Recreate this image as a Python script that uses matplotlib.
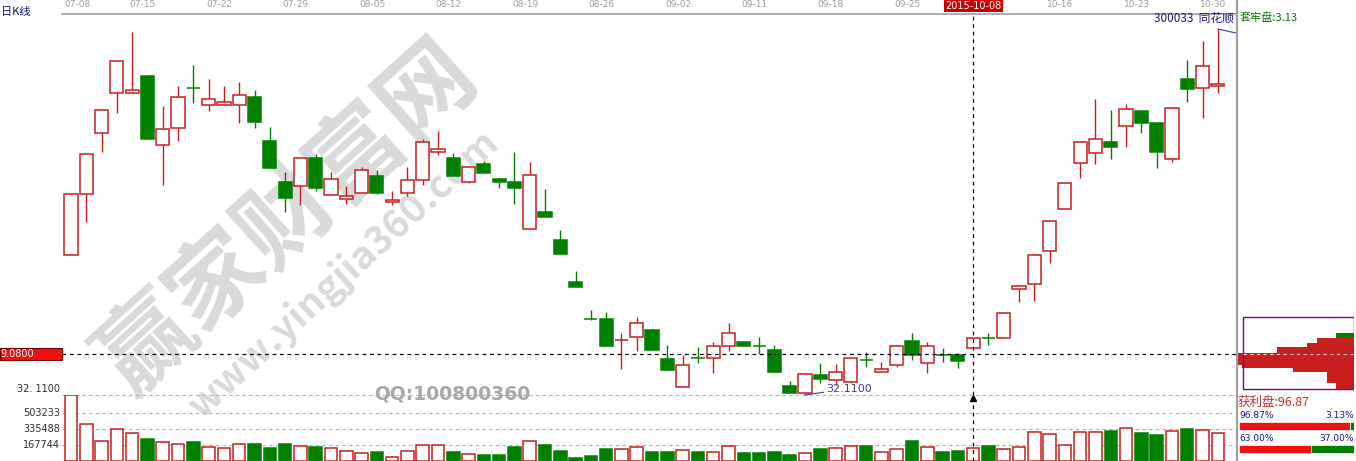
"""Daily K-line of 300033 (Jul-Oct 2015) with volume and chip panel."""
import matplotlib
matplotlib.use("Agg")
import matplotlib.pyplot as plt
from matplotlib.lines import Line2D
from matplotlib.patches import Rectangle
import numpy as np

plt.rcParams['font.family'] = ['Noto Sans CJK SC', 'DejaVu Sans']

# ---- data ----
date_idx = [0, 5, 10, 15, 20, 25, 30, 35, 40, 45, 50, 55, 65, 70, 75]
date_lbl = ['07-08', '07-15', '07-22', '07-29', '08-05', '08-12', '08-19', '08-26',
            '09-02', '09-11', '09-18', '09-25', '10-16', '10-23', '10-30']
cross_idx = 59
cross_date = '2015-10-08'
cross_price = 39.08
low_idx = 48
low_price = 32.11
high_idx = 75

opens = [55.91, 66.28, 76.65, 83.45, 83.45, 86.34, 74.61, 77.50, 84.30, 81.41,
         81.41, 81.41, 82.77, 75.29, 68.32, 67.64, 72.40, 66.11, 65.43, 66.45,
         69.34, 64.92, 66.45, 68.66, 73.42, 72.40, 68.32, 71.38, 68.83, 68.32,
         60.33, 63.22, 58.46, 51.32, 45.03, 45.03, 41.46, 41.97, 43.16, 38.23,
         33.47, 38.40, 38.40, 40.44, 41.12, 40.44, 39.76, 33.64, 32.45, 35.51,
         34.66, 34.32, 38.06, 36.02, 37.21, 41.29, 37.55, 38.91, 38.91, 40.10,
         41.80, 41.80, 50.13, 50.98, 56.59, 63.73, 71.55, 73.25, 75.12, 77.84,
         80.39, 78.35, 72.23, 85.83, 84.30, 84.64]
highs = [66.45, 73.08, 80.56, 88.89, 93.82, 86.34, 81.24, 84.64, 88.21, 85.83,
         84.64, 85.32, 83.96, 77.67, 70.02, 72.40, 73.08, 70.02, 67.64, 70.87,
         70.36, 66.79, 70.87, 75.63, 76.99, 73.25, 70.87, 71.89, 69.00, 73.42,
         71.72, 67.13, 60.16, 53.19, 46.56, 46.22, 42.65, 45.37, 43.16, 40.61,
         38.91, 40.27, 41.12, 44.35, 41.12, 41.97, 40.61, 34.49, 35.68, 37.55,
         37.38, 38.40, 39.42, 37.72, 40.44, 42.65, 41.12, 40.10, 39.25, 41.80,
         42.65, 46.05, 50.64, 55.91, 61.69, 68.15, 75.12, 82.43, 80.56, 81.58,
         80.39, 78.35, 80.90, 89.06, 92.29, 94.33]
lows = [55.91, 61.52, 73.42, 80.05, 83.45, 75.63, 67.81, 75.29, 81.75, 80.39,
        81.41, 78.35, 77.50, 70.70, 63.22, 64.41, 66.79, 66.11, 64.58, 66.45,
        66.28, 64.41, 65.94, 67.81, 72.91, 69.34, 68.15, 69.85, 67.30, 64.58,
        60.33, 62.37, 56.08, 50.47, 44.86, 40.44, 36.53, 39.59, 39.76, 36.36,
        33.47, 37.55, 35.85, 39.59, 40.44, 39.08, 36.02, 32.45, 32.11, 34.15,
        33.81, 34.15, 36.87, 36.02, 36.87, 38.06, 35.85, 37.72, 36.70, 40.10,
        40.61, 41.80, 47.92, 48.09, 54.55, 63.73, 69.00, 71.38, 72.23, 74.27,
        76.65, 70.70, 71.72, 81.92, 79.20, 83.45]
closes = [66.28, 73.08, 80.56, 88.89, 83.96, 75.63, 77.33, 82.77, 84.22, 82.43,
          81.92, 83.11, 78.52, 70.70, 65.60, 72.40, 67.30, 68.83, 65.94, 70.36,
          66.45, 65.26, 68.66, 75.12, 73.93, 69.34, 70.87, 69.85, 68.32, 67.30,
          69.51, 62.37, 56.08, 50.47, 44.95, 40.44, 41.50, 44.35, 39.76, 36.36,
          37.21, 38.35, 40.44, 42.65, 40.44, 40.40, 36.02, 32.45, 35.68, 34.83,
          36.02, 38.40, 38.00, 36.53, 40.44, 38.91, 40.44, 38.85, 37.89, 41.80,
          41.75, 46.05, 50.64, 55.91, 61.69, 68.15, 75.12, 75.63, 74.27, 80.73,
          78.35, 73.42, 80.90, 84.13, 88.04, 84.98]
volumes = [692000, 388000, 210000, 335000, 294000, 231000, 199000, 178000, 199000, 147000,
           136000, 178000, 178000, 136000, 178000, 157000, 147000, 136000, 105000, 84000,
           94000, 42000, 105000, 168000, 168000, 94000, 73000, 63000, 63000, 147000,
           210000, 168000, 105000, 31000, 52000, 126000, 126000, 147000, 94000, 94000,
           115000, 94000, 94000, 157000, 84000, 84000, 94000, 63000, 84000, 126000,
           136000, 157000, 157000, 94000, 126000, 210000, 147000, 94000, 105000, 136000,
           157000, 126000, 147000, 304000, 283000, 168000, 304000, 304000, 315000, 346000,
           294000, 273000, 315000, 335000, 325000, 294000]
vol_ticks = [167744, 335488, 503233]
vol_top = 692000

# chip distribution (price band low/high, relative amount)
chip_lo = [41.80, 40.95, 40.27, 39.25, 37.21, 36.70, 36.02, 34.15, 33.13]
chip_hi = [42.65, 41.80, 40.95, 40.27, 39.25, 37.21, 36.70, 36.02, 34.15]
chip_amt = [18, 37, 47, 77, 116, 112, 61, 27, 18]
chip_win = [False, True, True, True, True, True, True, True, True]
box_lo, box_hi = 33.13, 45.37

profit_pct = [96.87, 63.00]
loss_pct = [3.13, 37.00]
trapped = 3.13
profit = 96.87

RED = '#c81e1e'
GREEN = '#008000'
GRID = '#b0b0b0'
NAVY = '#1a1a80'

W, H = 1356, 461
fig = plt.figure(figsize=(W / 100, H / 100), dpi=100)


def px_box(x0, y0, x1, y1):
    return [x0 / W, 1 - y1 / H, (x1 - x0) / W, (y1 - y0) / H]


# watermark behind everything
fig.text(288 / W, 1 - 218 / H, '赢家财富网', rotation=42, fontsize=68, fontweight='bold',
         color='#dadada', ha='center', va='center', zorder=-1)
fig.text(344 / W, 1 - 274 / H, 'www.yingjia360.com', rotation=42.5, fontsize=28,
         fontweight='bold', color='#dadada', ha='center', va='center', zorder=-1)

ax = fig.add_axes(px_box(62, 14, 1236, 395))
axv = fig.add_axes(px_box(62, 395, 1236, 461), sharex=ax)
axl = fig.add_axes(px_box(0, 14, 62, 395))
axlv = fig.add_axes(px_box(0, 395, 62, 461))
axc = fig.add_axes(px_box(1238, 14, 1354, 395))
axp = fig.add_axes(px_box(1239, 420, 1354, 455))
for a in (ax, axv, axl, axlv, axc, axp):
    a.set_facecolor('none')

x = np.arange(len(opens))
o, hi, lo, c = map(np.array, (opens, highs, lows, closes))
up = c >= o
top = np.maximum(o, c)
bot = np.minimum(o, c)
body = np.maximum(top - bot, 0.08)
col = np.where(up, RED, GREEN)

ax.vlines(x, top, hi, colors=col, lw=1.0, zorder=2)
ax.vlines(x, lo, bot, colors=col, lw=1.0, zorder=2)
ax.bar(x[up], body[up], bottom=bot[up], width=0.86, facecolor='white',
       edgecolor=RED, lw=1.1, zorder=3)
ax.bar(x[~up], body[~up], bottom=bot[~up], width=0.86, facecolor=GREEN,
       edgecolor=GREEN, lw=1.1, zorder=3)

ax.set_xlim(-0.59, 76.19)
ax.set_ylim(32.11, 96.88)
ax.set_xticks([]); ax.set_yticks([])
for s in ('left', 'right', 'bottom'):
    ax.spines[s].set_visible(False)
ax.spines['top'].set_color('#a0a0a0')
ax.spines['top'].set_linewidth(1.2)

# crosshair + low line
ax.axhline(cross_price, color='black', ls=(0, (3, 3)), lw=0.9, zorder=4)
ax.axvline(cross_idx, color='black', ls=(0, (3, 3)), lw=0.9, zorder=4)
ax.axhline(low_price, color=GRID, ls=(0, (3, 3)), lw=0.8, clip_on=False, zorder=1)

for i, lbl in zip(date_idx, date_lbl):
    xi, ha = (i - 0.45, 'left') if i == 0 else (i - 0.3, 'center')
    ax.text(xi, 1.024, lbl, transform=ax.get_xaxis_transform(), ha=ha, va='center',
            fontsize=6.5, color='#a0a0a0', family=['Liberation Sans Narrow', 'DejaVu Sans'])
ax.text(cross_idx, 1.021, cross_date, transform=ax.get_xaxis_transform(), ha='center',
        va='center', fontsize=7, color='white', family='DejaVu Sans',
        bbox=dict(boxstyle='square,pad=0.15', fc='#cc0000', ec='none'))

ax.annotate(f'{low_price:.4f}', xy=(low_idx, low_price), xytext=(49.4, 33.2),
            color='#3c3ca0', fontsize=8, va='center', ha='left', family='DejaVu Sans',
            arrowprops=dict(arrowstyle='-', color='#3c3ca0', lw=0.8, shrinkA=0, shrinkB=0))
ax.annotate('', xy=(high_idx, highs[high_idx]), xytext=(76.19, 93.65),
            arrowprops=dict(arrowstyle='-', color='#3c3ca0', lw=0.8, shrinkA=0, shrinkB=0))
ax.text(0.998, 0.99, '300033  同花顺', transform=ax.transAxes, ha='right', va='center',
        fontsize=8.5, color=NAVY)

# volume
v = np.array(volumes)
axv.bar(x[up], v[up], width=0.82, facecolor='white', edgecolor=RED, lw=1.1, zorder=3)
axv.bar(x[~up], v[~up], width=0.82, facecolor=GREEN, edgecolor=GREEN, lw=1.1, zorder=3)
axv.set_ylim(0, vol_top)
for t in vol_ticks:
    axv.axhline(t, color=GRID, ls=(0, (3, 3)), lw=0.8, zorder=1)
axv.axvline(cross_idx, color='black', ls=(0, (3, 3)), lw=0.9, zorder=4)
axv.plot(cross_idx, vol_top * 0.96, marker='^', ms=4, color='black', clip_on=False, zorder=5)
axv.axis('off')
fig.text(452 / W, 1 - 394 / H, 'QQ:100800360', fontsize=13.5, fontweight='bold',
         color='#a8a8a8', ha='center', va='center', family='DejaVu Sans')

# left labels
axl.set_xlim(0, 1)
axl.set_ylim(32.11, 96.88)
axl.axis('off')
axl.add_patch(Rectangle((0, cross_price - 1.1), 1.0, 2.2, facecolor='#f01010',
                        edgecolor='#700000', lw=0.8, clip_on=False))
axl.text(0.01, cross_price, f'{cross_price:.4f}'[1:], color='white', fontsize=7,
         ha='left', va='center', family='DejaVu Sans')
axl.text(0.97, low_price + 1.0, '32. 1100', color='#303030', fontsize=7, ha='right',
         va='center', family='DejaVu Sans')
axlv.set_xlim(0, 1)
axlv.set_ylim(0, vol_top)
axlv.axis('off')
for t in vol_ticks:
    axlv.text(0.97, t, f'{t}', color='#303030', fontsize=7, ha='right', va='center',
              family='DejaVu Sans')

fig.text(1 / W, 1 - 12 / H, '日K线', color='#101080', fontsize=8, va='center')

# chip panel
axc.set_xlim(116, 0)
axc.set_ylim(32.11, 96.88)
axc.axis('off')
axc.axhline(cross_price, color='black', ls=(0, (2, 2)), lw=0.9, zorder=1)
for l0, h0, amt, win in zip(chip_lo, chip_hi, chip_amt, chip_win):
    axc.barh(l0, amt, height=h0 - l0, left=0, align='edge',
             color=RED if win else GREEN, zorder=2)
axc.add_patch(Rectangle((0, box_lo), 111, box_hi - box_lo, facecolor='none',
                        edgecolor='#800080', lw=1.0, zorder=3))
axc.axhline(cross_price, xmin=5 / 116, xmax=1, color='#ffc8c8', ls=(0, (3, 3)),
            lw=0.8, zorder=4)

fig.text(1240 / W, 1 - 18 / H, f'套牢盘:{trapped:.2f}', color='#107010', fontsize=8,
         va='center')
fig.text(1238 / W, 1 - 402 / H, f'获利盘:{profit:.2f}', color='#c83030', fontsize=9,
         va='center')

# profit/loss ratio bars
yb = np.arange(len(profit_pct))
axp.barh(yb, profit_pct, height=0.35, color='#f01010', edgecolor='white', lw=0.5)
axp.barh(yb, loss_pct, left=profit_pct, height=0.35, color=GREEN, edgecolor='white', lw=0.5)
axp.set_xlim(0, 100)
axp.set_ylim(1.26, -0.26)
axp.axis('off')
for yi, pp, lp in zip(yb, profit_pct, loss_pct):
    axp.text(0, yi - 0.45, f'{pp:.2f}%', color=NAVY, fontsize=6.5, ha='left',
             va='center', family='DejaVu Sans')
    axp.text(100, yi - 0.45, f'{lp:.2f}%', color=NAVY, fontsize=6.5, ha='right',
             va='center', family='DejaVu Sans')

fig.add_artist(Line2D([1237 / W, 1237 / W], [0, 1], color='#a0a0a0', lw=1.6))

fig.savefig('out.png', dpi=100)
